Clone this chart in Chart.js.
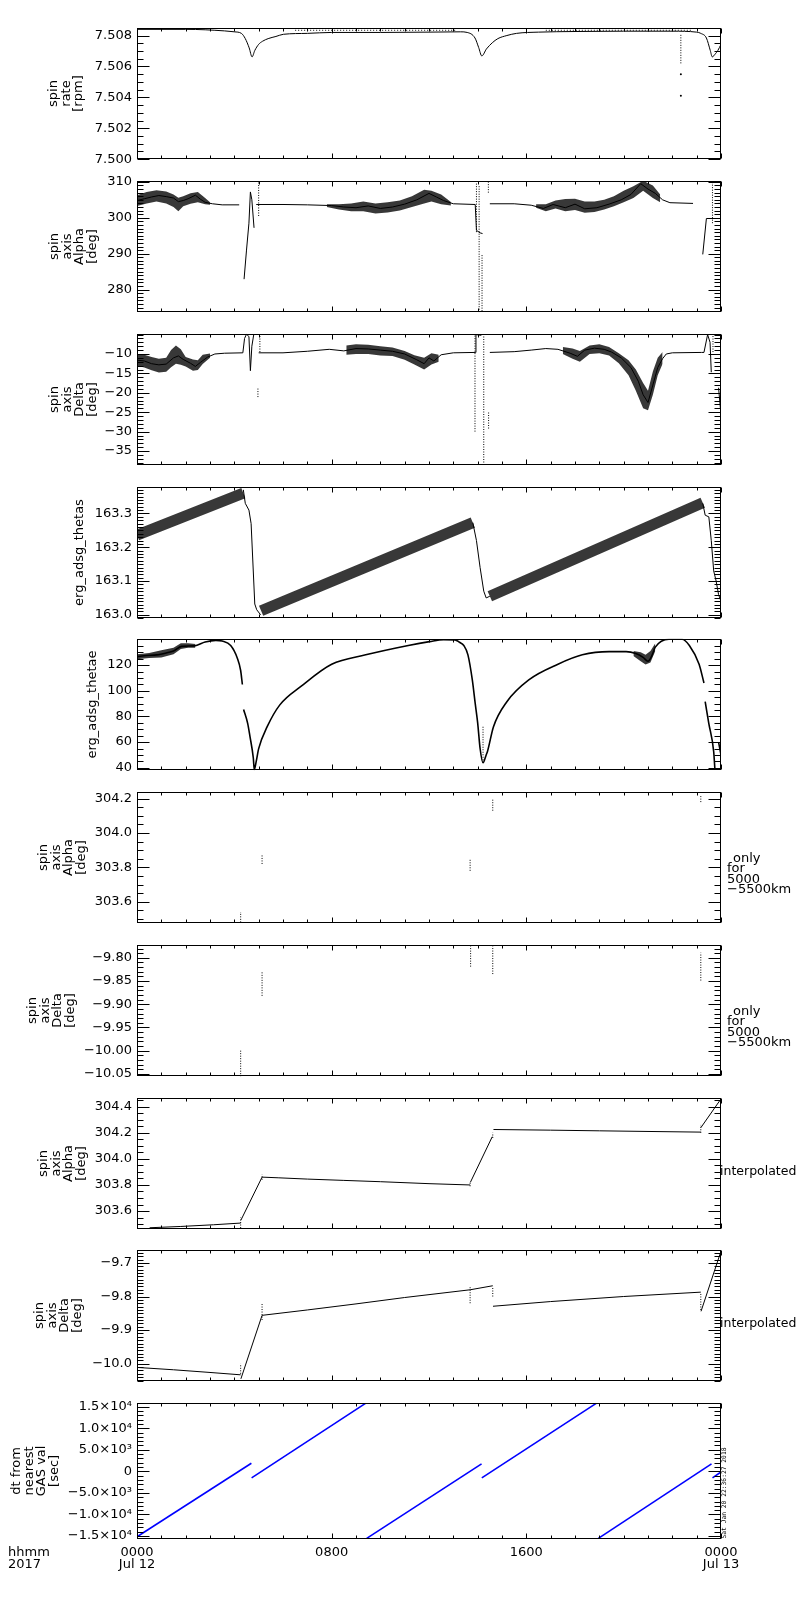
<!DOCTYPE html>
<html><head><meta charset="utf-8">
<script src="https://cdn.jsdelivr.net/npm/chart.js@4.4.1/dist/chart.umd.min.js"></script>
<style>
html,body{margin:0;padding:0;background:#fff}
body{width:800px;height:1600px;position:relative;overflow:hidden}
canvas{position:absolute;left:0}
</style></head><body>
<script>
// ---------------- shared time axis ----------------
const hourTicks = [0, 8, 16, 24];
const hourTickLabels = [['0000', 'Jul 12'], '0800', '1600', ['0000', 'Jul 13']];

// ---------------- panel 1: spin rate [rpm] ----------------
const rateHours = [0, 2, 3.6, 4.0, 4.29, 4.45, 4.61, 4.73, 4.84, 5.0, 5.16, 5.39, 5.71, 6.02, 7, 8, 10, 12, 13.3, 13.57, 13.89, 14.04, 14.17, 14.36, 14.6, 14.83, 15.2, 15.6, 16.5, 18, 20, 22, 23.0, 23.17, 23.4, 23.56, 23.64, 23.77, 23.87, 24.0];
const rateVals  = [7.5084, 7.5084, 7.5083, 7.50824, 7.50814, 7.5078, 7.5072, 7.50662, 7.50703, 7.50743, 7.50763, 7.5078, 7.50794, 7.50808, 7.50814, 7.5082, 7.5082, 7.50822, 7.50824, 7.5082, 7.50784, 7.50723, 7.50668, 7.50713, 7.50753, 7.5078, 7.508, 7.50814, 7.50822, 7.50826, 7.50828, 7.50828, 7.50822, 7.50814, 7.50784, 7.50703, 7.50662, 7.50682, 7.50703, 7.50743];
const rateUpperHours = [6.5, 13.1, 13.2, 16.8, 22.8];
const rateUpperVals  = [7.50834, 7.50834, null, 7.50834, 7.50834];
const rateColHours = [22.35];
const rateColLow   = [7.5062];
const rateColHigh  = [7.5081];
const rateDotHours = [22.35, 22.35];
const rateDotVals  = [7.5055, 7.5041];
const rateTicks  = [7.500, 7.502, 7.504, 7.506, 7.508];
const rateLabels = ['7.500', '7.502', '7.504', '7.506', '7.508'];

// ---------------- panel 2: spin axis Alpha [deg] ----------------
const alphaHours = [0, 0.3, 0.6, 0.9, 1.2, 1.5, 1.7, 1.9, 2.1, 2.4, 2.6, 2.8, 3.1, 3.5, 4.2,
  4.3, 4.4, 4.5, 4.6, 4.66, 4.72, 4.81,
  4.83, 4.9, 6, 7, 8, 8.5, 9, 9.5, 10, 10.5, 11, 11.5, 12.0, 12.3, 12.6, 13, 13.9, 13.95, 14.1, 14.2,
  14.3, 14.5, 15.5, 16.2, 16.7, 17.1, 17.6, 18.0, 18.4, 18.9, 19.4, 19.9, 20.3, 20.7, 21.0, 21.3, 21.6, 21.9, 22.85,
  23.0, 23.25, 23.4, 23.6,
  23.7, 23.87, 24];
const alphaVals = [304.8, 305.3, 305.8, 306.2, 305.9, 305.5, 304.5, 304.8, 305.3, 306.3, 305.2, 304.3, 303.9, 303.6, 303.6,
  null, 282.9, 291, 298.5, 307.2, 305, 297.2,
  null, 303.7, 303.7, 303.6, 303.4, 303.0, 302.8, 303.3, 302.6, 303.0, 303.8, 305.0, 306.8, 305.8, 304.8, 303.9, 303.7, 296.5, 295.8, 295.6,
  null, 303.9, 303.9, 303.5, 302.6, 303.7, 302.8, 303.8, 302.5, 302.8, 303.8, 305.0, 306.5, 309.5, 308.0, 306.8, 305.0, 304.2, 304.0,
  null, 289.8, 299.8, 299.8,
  null, 304.0, 304.0];
const alphaBandAHours = [0, 0.4, 0.8, 1.2, 1.5, 1.7, 1.9, 2.2, 2.5, 2.8, 3.0];
const alphaBandALow   = [303.3, 304.0, 304.5, 304.0, 303.0, 301.8, 303.2, 303.9, 304.3, 303.8, 303.6];
const alphaBandAHigh  = [306.3, 307.2, 307.7, 307.3, 306.5, 305.6, 306.0, 306.8, 307.2, 305.5, 304.3];
const alphaBandCHours = [7.8, 8.3, 8.8, 9.3, 9.8, 10.3, 10.8, 11.3, 11.8, 12.1, 12.5, 12.9];
const alphaBandCLow   = [303.0, 302.3, 301.8, 301.8, 301.2, 301.5, 302.0, 303.0, 304.0, 304.5, 303.8, 303.4];
const alphaBandCHigh  = [303.8, 303.8, 304.0, 304.5, 304.0, 304.3, 304.8, 306.0, 307.8, 307.5, 306.5, 304.4];
const alphaBandEHours = [16.4, 16.8, 17.2, 17.6, 18.0, 18.4, 18.8, 19.2, 19.6, 20.0, 20.4, 20.8, 21.2, 21.5];
const alphaBandELow   = [302.8, 301.8, 302.6, 301.8, 302.2, 301.4, 301.6, 302.3, 303.2, 304.3, 305.5, 307.5, 305.5, 304.3];
const alphaBandEHigh  = [303.8, 303.8, 304.8, 305.2, 305.3, 304.5, 304.5, 305.0, 306.0, 307.5, 308.8, 310.3, 309.0, 306.5];
const alphaColHours = [5.0, 13.95, 14.06, 14.18, 14.44, 23.65];
const alphaColLow   = [300.5, 296.0, 273.7, 274.0, 307.0, 298.5];
const alphaColHigh  = [310.2, 309.8, 309.0, 289.8, 310.2, 309.8];
const alphaTicks  = [280, 290, 300, 310];
const alphaLabels = ['280', '290', '300', '310'];

// ---------------- panel 3: spin axis Delta [deg] ----------------
const deltaHours = [0, 0.3, 0.6, 0.9, 1.2, 1.5, 1.7, 1.9, 2.2, 2.4, 2.6, 2.9, 3.2, 3.6, 4.35,
  4.42, 4.5, 4.6, 4.66, 4.72, 4.8,
  4.85, 5.0, 6, 7, 7.9, 8.5, 9.0, 9.5, 10, 10.5, 11, 11.5, 11.8, 12.0, 12.2, 12.5, 13, 13.9, 13.93, 14.15,
  14.2, 14.5, 15.5, 16.2, 16.8, 17.3, 17.8, 18.1, 18.4, 18.8, 19.2, 19.5, 19.9, 20.3, 20.6, 20.8, 21.0, 21.2, 21.4, 21.6, 21.75, 22, 23.2, 23.3, 23.45, 23.55, 23.6,
  23.65, 23.9, 23.98];
const deltaVals = [-11.6, -11.8, -12.5, -12.8, -12.6, -11.0, -10.5, -11.4, -12.4, -13.2, -12.2, -10.8, -10.0, -9.8, -9.7,
  -6.0, -4.9, -5.5, -14.3, -8.0, -4.9,
  null, -9.7, -9.7, -9.3, -8.8, -9.2, -8.6, -8.7, -9.0, -9.3, -10.0, -11.5, -12.5, -11.0, -11.8, -10.2, -9.7, -9.6, -5.0, -5.2,
  null, -9.6, -9.4, -9.0, -8.6, -8.8, -9.8, -10.6, -9.0, -8.5, -8.8, -9.5, -11.0, -13.5, -17.0, -20.5, -22.5, -18.0, -13.5, -11.2, -10.0, -9.7, -9.6, -9.6, -5.0, -7.0, -14.7,
  null, -18.7, -24.3];
const deltaBandAHours = [0, 0.3, 0.6, 0.9, 1.2, 1.4, 1.6, 1.8, 2.0, 2.3, 2.5, 2.7, 3.0];
const deltaBandALow   = [-13.0, -13.5, -14.2, -14.8, -14.6, -13.4, -12.5, -12.8, -13.2, -14.3, -14.1, -12.6, -11.0];
const deltaBandAHigh  = [-10.2, -10.2, -10.8, -11.2, -11.0, -9.0, -7.8, -8.8, -10.8, -11.4, -11.6, -10.2, -9.9];
const deltaBandCHours = [8.6, 9.0, 9.5, 10.0, 10.5, 11.0, 11.4, 11.8, 12.1, 12.4];
const deltaBandCLow   = [-10.2, -10.0, -10.0, -10.4, -10.5, -11.5, -12.7, -14.0, -12.7, -12.0];
const deltaBandCHigh  = [-7.8, -7.5, -7.6, -8.0, -8.3, -9.2, -10.3, -11.0, -9.8, -10.2];
const deltaBandEHours = [17.5, 17.9, 18.2, 18.6, 19.0, 19.4, 19.8, 20.2, 20.5, 20.8, 21.0, 21.2, 21.4, 21.6];
const deltaBandELow   = [-10.0, -11.2, -12.0, -10.0, -9.8, -10.4, -12.4, -15.5, -19.5, -24.0, -24.5, -20.5, -15.5, -12.5];
const deltaBandEHigh  = [-8.2, -8.6, -9.2, -7.8, -7.5, -8.2, -9.8, -11.6, -14.0, -17.5, -19.5, -14.5, -11.0, -9.5];
const deltaColHours = [4.97, 5.05, 13.89, 14.25, 14.45, 23.67];
const deltaColLow   = [-21.1, -9.5, -30.0, -38.6, -29.2, -9.5];
const deltaColHigh  = [-18.7, -4.9, -5.0, -5.0, -24.9, -4.9];
const deltaTicks  = [-35, -30, -25, -20, -15, -10];
const deltaLabels = ['\u221235', '\u221230', '\u221225', '\u221220', '\u221215', '\u221210'];

// ---------------- panel 4: erg_adsg_thetas ----------------
const thetasBandHours = [0, 4.37, 4.4, 5.1, 13.8, 13.85, 14.5, 23.25];
const thetasBandVals  = [163.236, 163.36, null, 163.012, 163.273, null, 163.055, 163.332];
const thetasDropHours = [4.37, 4.45, 4.6, 4.69, 4.84, 4.92, 5.08, 5.12, 13.8, 13.95, 14.1, 14.25, 14.35, 14.5, 14.55, 23.25, 23.35, 23.5, 23.6, 23.7, 23.8, 23.9, 24.0];
const thetasDropVals  = [163.37, 163.33, 163.31, 163.27, 163.032, 163.015, 163.0, null, 163.273, 163.22, 163.14, 163.07, 163.05, 163.055, null, 163.33, 163.295, 163.29, 163.22, 163.13, 163.10, 163.06, 163.04];
const thetasTicks  = [163.0, 163.1, 163.2, 163.3];
const thetasLabels = ['163.0', '163.1', '163.2', '163.3'];

// ---------------- panel 5: erg_adsg_thetae ----------------
const thetaeHours = [0, 0.4, 0.8, 1.2, 1.5, 1.83, 2.36, 2.8, 3.24, 3.5, 3.85, 4.12, 4.26, 4.33,
  4.35, 4.38, 4.55, 4.64, 4.78, 4.82, 4.9, 5.0, 5.35, 5.87, 6.75, 8.0, 9.4, 11.15, 12.02, 12.6, 13.07, 13.25, 13.43, 13.6, 13.78, 13.9, 14.0, 14.1, 14.22,
  14.35, 14.4, 14.65, 15.2, 16.1, 17.3, 18.3, 19.4, 20.1, 20.5, 20.8, 21.0, 21.15, 21.3, 21.86, 22.4, 22.7, 23.1, 23.3,
  23.32, 23.35, 23.5, 23.7, 23.75,
  23.8, 23.9, 24.0];
const thetaeVals = [126.5, 127.5, 128.0, 129.5, 131.0, 134.6, 135.0, 138.0, 139.3, 138.7, 135.3, 125.6, 115.8, 104.9,
  null, 85.4, 74.4, 64.6, 47.6, 38.5, 45.0, 54.9, 72.0, 89.0, 103.6, 120.7, 128.0, 135.3, 138.3, 139.8, 139.7, 137.8, 135.3, 128.0, 108.5, 90.0, 75.0, 55.0, 43.9,
  50.0, 52.5, 72.0, 91.5, 108.5, 120.7, 128.0, 130.5, 130.5, 129.0, 126.0, 123.0, 127.0, 134.0, 140.2, 140.2, 135.3, 120.7, 106.1,
  null, 91.5, 74.4, 52.5, 38.5,
  null, 60.0, 50.0];
const thetaeBandAHours = [0, 0.5, 1.0, 1.5, 1.8, 2.1, 2.4];
const thetaeBandALow   = [124.5, 125.5, 126.0, 128.5, 132.5, 133.5, 133.5];
const thetaeBandAHigh  = [128.5, 129.5, 131.5, 133.5, 137.0, 137.0, 136.5];
const thetaeBandBHours = [20.4, 20.7, 20.9, 21.1, 21.3];
const thetaeBandBLow   = [127.0, 123.0, 120.5, 122.0, 131.0];
const thetaeBandBHigh  = [131.0, 130.0, 128.0, 131.0, 137.0];
const thetaeColHours = [14.22];
const thetaeColLow   = [43.9];
const thetaeColHigh  = [72.0];
const thetaeTicks  = [40, 60, 80, 100, 120];
const thetaeLabels = ['40', '60', '80', '100', '120'];

// ---------------- panel 6: spin axis Alpha, only for 5000-5500km ----------------
const alphaOnlyHours = [4.26, 5.14, 13.69, 14.62, 23.17];
const alphaOnlyLow   = [303.48, 303.82, 303.78, 304.13, 304.18];
const alphaOnlyHigh  = [303.54, 303.87, 303.845, 304.20, 304.22];
const alphaOnlyTicks  = [303.6, 303.8, 304.0, 304.2];
const alphaOnlyLabels = ['303.6', '303.8', '304.0', '304.2'];

// ---------------- panel 7: spin axis Delta, only for 5000-5500km ----------------
const deltaOnlyHours = [4.26, 5.14, 13.71, 14.62, 23.17];
const deltaOnlyLow   = [-10.056, -9.882, -9.819, -9.835, -9.849];
const deltaOnlyHigh  = [-9.999, -9.829, -9.775, -9.775, -9.789];
const deltaOnlyTicks  = [-10.05, -10.00, -9.95, -9.90, -9.85, -9.80];
const deltaOnlyLabels = ['\u221210.05', '\u221210.00', '\u22129.95', '\u22129.90', '\u22129.85', '\u22129.80'];

// ---------------- panel 8: spin axis Alpha, interpolated ----------------
const alphaIntHours = [0.52, 1.8, 3.15, 4.26, 4.265, 4.27, 5.14, 5.8, 7, 8.5, 10, 12, 13.69, 13.695, 13.7, 14.6, 14.625, 14.65, 17, 19, 21, 23.17, 23.172, 23.175, 24];
const alphaIntVals  = [303.472, 303.482, 303.495, 303.508, null, 303.53, 303.86, 303.855, 303.845, 303.835, 303.825, 303.81, 303.80, null, 303.82, 304.17, null, 304.225, 304.22, 304.215, 304.21, 304.205, null, 304.24, 304.46];
const alphaIntColHours = [4.26, 5.14, 13.69, 14.62, 23.17];
const alphaIntColLow   = [303.47, 303.84, 303.79, 304.16, 304.20];
const alphaIntColHigh  = [303.55, 303.88, 303.82, 304.20, 304.26];
const alphaIntTicks  = [303.6, 303.8, 304.0, 304.2, 304.4];
const alphaIntLabels = ['303.6', '303.8', '304.0', '304.2', '304.4'];

// ---------------- panel 9: spin axis Delta, interpolated ----------------
const deltaIntHours = [0, 1.5, 3, 4.26, 4.265, 4.27, 5.14, 7, 9, 11, 13.69, 14.62, 14.625, 14.63, 17, 20, 23.17, 23.175, 23.18, 24];
const deltaIntVals  = [-10.011, -10.018, -10.026, -10.033, null, -10.045, -9.856, -9.84, -9.822, -9.803, -9.78, -9.768, null, -9.829, -9.815, -9.80, -9.787, null, -9.844, -9.665];
const deltaIntColHours = [4.26, 5.14, 13.69, 14.62, 23.17];
const deltaIntColLow   = [-10.03, -9.87, -9.82, -9.80, -9.84];
const deltaIntColHigh  = [-10.00, -9.82, -9.77, -9.77, -9.79];
const deltaIntTicks  = [-10.0, -9.9, -9.8, -9.7];
const deltaIntLabels = ['\u221210.0', '\u22129.9', '\u22129.8', '\u22129.7'];

// ---------------- panel 10: dt from nearest GAS val [sec] ----------------
const dtSegStartHours = [0, 4.71, 9.44, 14.17, 18.96, 23.65];
const dtSegStartVals  = [-15180, -1510, -15540, -1510, -15540, -1510];
const dtSegEndHours   = [4.70, 9.39, 14.16, 18.87, 23.61, 24.0];
const dtSegEndVals    = [1870, 15766, 1712, 15766, 1712, -158];
const dtTicks  = [-15000, -10000, -5000, 0, 5000, 10000, 15000];
const dtLabels = ['\u22121.5\u00d710\u2074', '\u22121.0\u00d710\u2074', '\u22125.0\u00d710\u00b3', '0', '5.0\u00d710\u00b3', '1.0\u00d710\u2074', '1.5\u00d710\u2074'];

// ================= rendering =================
Chart.defaults.font.family = '"DejaVu Sans", sans-serif';
Chart.defaults.font.size = 13;
Chart.defaults.color = '#000';

const PLOT_LEFT = 137, PLOT_RIGHT = 721, PAD = 8, PANEL_H = 141, XLAB_H = 36;

function pts(hours, vals) { return hours.map((h, i) => ({x: h, y: vals[i]})); }
function lineDS(hours, vals, extra) {
  return Object.assign({data: pts(hours, vals), borderColor: '#000', borderWidth: 1, pointRadius: 0,
    fill: false, spanGaps: false, tension: 0}, extra || {});
}
function bandDS(hours, low, high) {
  return [
    {data: pts(hours, low), borderWidth: 0, borderColor: 'rgba(0,0,0,0)', pointRadius: 0, fill: false, spanGaps: false},
    {data: pts(hours, high), borderWidth: 0, borderColor: 'rgba(0,0,0,0)', pointRadius: 0, fill: '-1',
      backgroundColor: 'rgba(0,0,0,0.78)', spanGaps: false}
  ];
}
function colDS(hours, low, high, extra) {
  const d = [];
  hours.forEach((h, i) => { d.push({x: h, y: low[i]}, {x: h, y: high[i]}, {x: h, y: null}); });
  return Object.assign({data: d, borderColor: '#000', borderWidth: 1, borderDash: [1, 1.5], pointRadius: 0,
    fill: false, spanGaps: false}, extra || {});
}
function dotDS(hours, vals) {
  return {data: pts(hours, vals), showLine: false, pointRadius: 1, pointBackgroundColor: '#000',
    pointBorderWidth: 0, borderColor: '#000'};
}
function segDS(h0, v0, h1, v1, color) {
  return h0.map((h, i) => ({data: [{x: h, y: v0[i]}, {x: h1[i], y: v1[i]}], borderColor: color,
    borderWidth: 1.6, pointRadius: 0, fill: false}));
}

const onlyText = [
  {t: 'only', x: 733, y: 79.5}, {t: 'for', x: 727, y: 90}, {t: '5000', x: 727, y: 100.5}, {t: '\u22125500km', x: 727, y: 111}
];
const interpText = [{t: 'interpolated', x: 720, y: 86.5, size: 12.5}];

const panels = [
  {top: 23, min: 7.5, max: 7.5085, ticks: rateTicks, labels: rateLabels, minor: 0.0005,
   title: ['spin', 'rate', '[rpm]'], tx: 54,
   datasets: [lineDS(rateHours, rateVals, {cubicInterpolationMode: 'monotone'}), lineDS(rateUpperHours, rateUpperVals, {borderDash: [1, 2]}),
     colDS(rateColHours, rateColLow, rateColHigh), dotDS(rateDotHours, rateDotVals)]},
  {top: 176, min: 273.7, max: 310.3, ticks: alphaTicks, labels: alphaLabels, minor: 1,
   title: ['spin', 'axis', 'Alpha', '[deg]'], tx: 55,
   datasets: [...bandDS(alphaBandAHours, alphaBandALow, alphaBandAHigh), ...bandDS(alphaBandCHours, alphaBandCLow, alphaBandCHigh),
     ...bandDS(alphaBandEHours, alphaBandELow, alphaBandEHigh), lineDS(alphaHours, alphaVals),
     colDS(alphaColHours, alphaColLow, alphaColHigh)]},
  {top: 329, min: -38.65, max: -4.8, ticks: deltaTicks, labels: deltaLabels, minor: 1,
   title: ['spin', 'axis', 'Delta', '[deg]'], tx: 55,
   datasets: [...bandDS(deltaBandAHours, deltaBandALow, deltaBandAHigh), ...bandDS(deltaBandCHours, deltaBandCLow, deltaBandCHigh),
     ...bandDS(deltaBandEHours, deltaBandELow, deltaBandEHigh), lineDS(deltaHours, deltaVals),
     colDS(deltaColHours, deltaColLow, deltaColHigh)]},
  {top: 482, min: 162.99, max: 163.379, ticks: thetasTicks, labels: thetasLabels, minor: 0.01,
   title: 'erg_adsg_thetas', tx: 80,
   datasets: [lineDS(thetasBandHours, thetasBandVals, {borderWidth: 11, borderColor: 'rgba(0,0,0,0.78)'}),
     lineDS(thetasDropHours, thetasDropVals)]},
  {top: 634, min: 38.1, max: 140.5, ticks: thetaeTicks, labels: thetaeLabels, minor: 5,
   title: 'erg_adsg_thetae', tx: 93,
   datasets: [...bandDS(thetaeBandAHours, thetaeBandALow, thetaeBandAHigh), ...bandDS(thetaeBandBHours, thetaeBandBLow, thetaeBandBHigh),
     lineDS(thetaeHours, thetaeVals, {borderWidth: 1.6, cubicInterpolationMode: 'monotone'}), colDS(thetaeColHours, thetaeColLow, thetaeColHigh)]},
  {top: 787, min: 303.475, max: 304.24, ticks: alphaOnlyTicks, labels: alphaOnlyLabels, minor: 0.05,
   title: ['spin', 'axis', 'Alpha', '[deg]'], tx: 44, texts: onlyText,
   datasets: [colDS(alphaOnlyHours, alphaOnlyLow, alphaOnlyHigh)]},
  {top: 940, min: -10.055, max: -9.772, ticks: deltaOnlyTicks, labels: deltaOnlyLabels, minor: 0.01,
   title: ['spin', 'axis', 'Delta', '[deg]'], tx: 33, texts: onlyText,
   datasets: [colDS(deltaOnlyHours, deltaOnlyLow, deltaOnlyHigh)]},
  {top: 1093, min: 303.461, max: 304.468, ticks: alphaIntTicks, labels: alphaIntLabels, minor: 0.05,
   title: ['spin', 'axis', 'Alpha', '[deg]'], tx: 44, texts: interpText,
   datasets: [lineDS(alphaIntHours, alphaIntVals), colDS(alphaIntColHours, alphaIntColLow, alphaIntColHigh)]},
  {top: 1245, min: -10.052, max: -9.661, ticks: deltaIntTicks, labels: deltaIntLabels, minor: 0.01,
   title: ['spin', 'axis', 'Delta', '[deg]'], tx: 40, texts: interpText,
   datasets: [lineDS(deltaIntHours, deltaIntVals), colDS(deltaIntColHours, deltaIntColLow, deltaIntColHigh)]},
  {top: 1398, min: -15700, max: 15900, ticks: dtTicks, labels: dtLabels, minor: 1000,
   title: ['dt from', 'nearest', 'GAS val', '[sec]'], tx: 17, last: true,
   texts: [{t: 'hhmm', x: 8, y: 163, align: 'left'}, {t: '2017', x: 8, y: 174.5, align: 'left'}],
   stamp: 'Sat Jan 20 22:36:27 2018',
   datasets: segDS(dtSegStartHours, dtSegStartVals, dtSegEndHours, dtSegEndVals, '#0000ff')}
];

const idlPlugin = {
  id: 'idl',
  afterDraw(chart, args, o) {
    const ctx = chart.ctx, a = chart.chartArea, ys = chart.scales.y, xs = chart.scales.x;
    const L = Math.round(a.left) + 0.5, R = Math.round(a.right) - 0.5;
    const T = Math.round(a.top) + 0.5, B = Math.round(a.bottom) - 0.5;
    ctx.save();
    ctx.strokeStyle = '#000';
    ctx.lineWidth = 1;
    ctx.beginPath();
    const majors = ys.ticks.map(t => t.value);
    majors.forEach(v => {
      const y = Math.round(ys.getPixelForValue(v)) + 0.5;
      ctx.moveTo(L, y); ctx.lineTo(L + 12, y);
      ctx.moveTo(R, y); ctx.lineTo(R - 12, y);
    });
    const st = o.minor;
    const k0 = Math.ceil(ys.min / st - 1e-6), k1 = Math.floor(ys.max / st + 1e-6);
    for (let k = k0; k <= k1; k++) {
      const v = k * st;
      if (majors.some(m => Math.abs(m - v) < st * 0.01)) continue;
      const y = Math.round(ys.getPixelForValue(v)) + 0.5;
      ctx.moveTo(L, y); ctx.lineTo(L + 6, y);
      ctx.moveTo(R, y); ctx.lineTo(R - 6, y);
    }
    for (let h = 0; h <= 24; h++) {
      const x = Math.round(xs.getPixelForValue(h)) + 0.5;
      const len = (h % 8 === 0) ? 5 : 3;
      ctx.moveTo(x, B); ctx.lineTo(x, B - len);
      ctx.moveTo(x, T); ctx.lineTo(x, T + len);
    }
    ctx.stroke();
    ctx.strokeRect(L, T, R - L, B - T);
    ctx.fillStyle = '#000';
    ctx.textBaseline = 'middle';
    (o.texts || []).forEach(it => {
      ctx.font = (it.size || 13) + 'px "DejaVu Sans"';
      ctx.textAlign = 'left';
      ctx.fillText(it.t, it.x, it.y);
    });
    if (o.stamp) {
      ctx.translate(724.5, B);
      ctx.rotate(-Math.PI / 2);
      ctx.font = '6.3px "DejaVu Sans Mono"';
      ctx.textAlign = 'left';
      ctx.fillText(o.stamp, 0, 0);
    }
    ctx.restore();
  }
};

panels.forEach(p => {
  const h = PAD + PANEL_H + PAD + (p.last ? XLAB_H : 0);
  const c = document.createElement('canvas');
  c.width = 800; c.height = h;
  c.style.width = '800px'; c.style.height = h + 'px';
  c.style.top = (p.top - PAD) + 'px';
  document.body.appendChild(c);
  new Chart(c, {
    type: 'line',
    data: {datasets: p.datasets},
    options: {
      responsive: false, animation: false, events: [],
      layout: {padding: {top: PAD, bottom: PAD, left: 0, right: 800 - PLOT_RIGHT}},
      plugins: {legend: {display: false}, tooltip: {enabled: false},
        idl: {minor: p.minor, texts: p.texts, stamp: p.stamp}},
      scales: {
        x: {type: 'linear', min: 0, max: 24, display: true,
          grid: {display: false, drawTicks: false}, border: {display: false},
          ticks: p.last ? {display: true, autoSkip: false, maxRotation: 0, minRotation: 0, padding: 8,
            font: {size: 13, lineHeight: 0.88}, callback: (v, i) => hourTickLabels[i]} : {display: false},
          afterBuildTicks: s => { s.ticks = hourTicks.map(v => ({value: v})); },
          afterFit: s => { s.height = p.last ? XLAB_H : 0; }},
        y: {type: 'linear', min: p.min, max: p.max,
          grid: {display: false, drawTicks: false}, border: {display: false},
          ticks: {autoSkip: false, padding: 5, font: {size: 13}, callback: (v, i) => p.labels[i]},
          afterBuildTicks: s => { s.ticks = p.ticks.map(v => ({value: v})); },
          afterFit: s => { s.width = PLOT_LEFT; },
          title: {display: true, text: p.title, font: {size: 13, lineHeight: '12.5px'},
            padding: {top: p.tx - 6.25, bottom: 0}}}
      }
    },
    plugins: [idlPlugin]
  });
});
</script>
</body></html>
